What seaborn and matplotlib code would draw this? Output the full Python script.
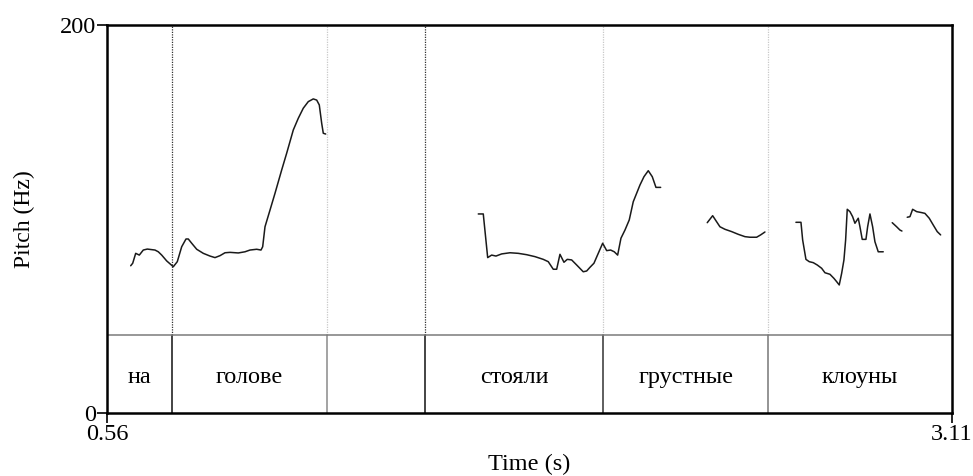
import numpy as np
import pandas as pd
import matplotlib
matplotlib.use("Agg")
import matplotlib.pyplot as plt
import seaborn as sns

# Pitch contour, one list pair per voiced stretch (time in s, F0 in Hz)
seg1_time = [0.6315, 0.6376, 0.6466, 0.6575, 0.6695, 0.6816, 0.7048, 0.7148,
             0.7251, 0.7401, 0.7601, 0.7721, 0.7854, 0.7984, 0.8053, 0.8156,
             0.8307, 0.8506, 0.8708, 0.8859, 0.9010, 0.9161, 0.9312, 0.9562,
             0.9764, 0.9915, 1.0117, 1.0247, 1.0298, 1.0368, 1.0519, 1.0669,
             1.0872, 1.1022, 1.1222, 1.1372, 1.1523, 1.1674, 1.1825, 1.1928,
             1.2006, 1.2079, 1.2127, 1.2199]
seg1_pitch = [75.9, 77.2, 82.3, 81.4, 84.0, 84.5, 84.0, 83.1,
              81.4, 78.4, 75.4, 78.0, 85.7, 89.7, 89.7, 87.5,
              84.4, 82.3, 80.9, 80.1, 81.1, 82.6, 82.8, 82.5,
              83.1, 84.0, 84.4, 84.0, 85.7, 96.0, 104.6, 113.2,
              125.3, 133.9, 145.9, 151.9, 157.1, 160.5, 161.9, 161.3,
              158.8, 149.3, 144.2, 143.8]

seg2_time = [1.6804, 1.6955, 1.7088, 1.7208, 1.7338, 1.7510, 1.7761, 1.8011,
             1.8264, 1.8515, 1.8765, 1.8916, 1.9067, 1.9170, 1.9269, 1.9390,
             1.9490, 1.9622, 1.9773, 1.9972, 2.0075, 2.0175, 2.0295, 2.0425,
             2.0558, 2.0679, 2.0799, 2.0908, 2.1010, 2.1110, 2.1231, 2.1360,
             2.1481, 2.1683, 2.1804, 2.1934, 2.2055, 2.2166, 2.2308]
seg2_pitch = [102.6, 102.6, 80.1, 81.4, 80.9, 82.0, 82.6, 82.3,
              81.6, 80.6, 79.2, 78.0, 74.1, 74.1, 81.8, 77.7,
              79.2, 78.9, 76.3, 72.8, 73.2, 75.1, 77.2, 82.3,
              87.5, 83.7, 84.0, 83.1, 81.4, 90.1, 94.3, 99.5,
              108.9, 117.5, 121.8, 124.9, 121.8, 116.3, 116.3]

seg3_time = [2.3714, 2.3877, 2.3977, 2.4097, 2.4248, 2.4450, 2.4650, 2.4852,
             2.5003, 2.5204, 2.5325, 2.5455]
seg3_pitch = [98.1, 101.7, 99.1, 96.0, 94.7, 93.5, 92.1, 90.9,
              90.6, 90.6, 91.8, 93.3]

seg4_time = [2.6390, 2.6542, 2.6593, 2.6692, 2.6792, 2.6913, 2.7033, 2.7166,
             2.7266, 2.7417, 2.7537, 2.7619, 2.7697, 2.7770, 2.7839, 2.7890,
             2.7939, 2.8020, 2.8101, 2.8171, 2.8271, 2.8322, 2.8391, 2.8503,
             2.8554, 2.8624, 2.8705, 2.8774, 2.8874, 2.9025]
seg4_pitch = [98.3, 98.3, 89.2, 79.2, 78.0, 77.5, 76.3, 74.6,
              72.3, 71.5, 69.4, 67.7, 66.0, 72.0, 78.9, 89.2,
              105.0, 103.8, 101.2, 97.8, 100.4, 96.0, 89.5, 89.5,
              96.0, 102.6, 96.0, 88.3, 83.1, 83.1]

seg5_time = [2.9296, 2.9429, 2.9529, 2.9589]
seg5_pitch = [98.1, 96.0, 94.3, 93.8]

seg6_time = [2.9749, 2.9831, 2.9912, 3.0033, 3.0183, 3.0283, 3.0413, 3.0534,
             3.0654, 3.0757]
seg6_pitch = [100.9, 101.2, 105.0, 103.8, 103.3, 102.9, 100.4, 96.9,
              93.5, 91.8]

# Word tier
word_bounds = [0.56, 0.755, 1.225, 1.520, 2.058, 2.556, 3.11]
word_labels = ["на", "голове", "", "стояли", "грустные", "клоуны"]

t_min, t_max = 0.56, 3.11
f_min, f_max = 0, 200
tier_top = 40

segments = [(seg1_time, seg1_pitch), (seg2_time, seg2_pitch),
            (seg3_time, seg3_pitch), (seg4_time, seg4_pitch),
            (seg5_time, seg5_pitch), (seg6_time, seg6_pitch)]
df = pd.concat(
    [pd.DataFrame({"time": t, "pitch": p, "seg": i})
     for i, (t, p) in enumerate(segments)],
    ignore_index=True,
)

sns.set_theme(style="white")
plt.rcParams["font.family"] = ["Liberation Serif", "DejaVu Serif"]

fig = plt.figure(figsize=(9.73, 4.76), dpi=100)
ax = fig.add_axes([107 / 973, 63 / 476, 845 / 973, 388 / 476])

sns.lineplot(data=df, x="time", y="pitch", units="seg", estimator=None,
             sort=False, color="#1a1a1a", linewidth=1.1, ax=ax)

# interval boundaries: dotted above the tier, solid inside it
dot_colors = ["#333333", "#c8c8c8", "#333333", "#c8c8c8", "#c8c8c8"]
tier_colors = ["#111111", "#8a8a8a", "#111111", "#333333", "#777777"]
for b, dc, tc in zip(word_bounds[1:-1], dot_colors, tier_colors):
    ax.plot([b, b], [tier_top, f_max], color=dc, lw=0.9,
            linestyle=(0, (1, 1)), zorder=1)
    ax.plot([b, b], [f_min, tier_top], color=tc, lw=1.1, zorder=1)

ax.axhline(tier_top, color="#7a7a7a", lw=1.1, zorder=1)

for lo, hi, lab in zip(word_bounds[:-1], word_bounds[1:], word_labels):
    if lab:
        ax.text((lo + hi) / 2, 15.5, lab, ha="center", va="baseline",
                fontsize=17.5, color="black")

ax.set_xlim(t_min, t_max)
ax.set_ylim(f_min, f_max)
ax.set_xticks([t_min, t_max])
ax.set_xticklabels(["0.56", "3.11"])
ax.set_yticks([f_min, f_max])
ax.set_yticklabels(["0", "200"])
ax.tick_params(axis="both", direction="out", length=7, width=1.2,
               labelsize=17.5, colors="black", bottom=True, left=True)
ax.tick_params(axis="x", pad=1)
ax.tick_params(axis="y", pad=1)
ax.set_xlabel("Time (s)", fontsize=17.5, color="black", labelpad=6)
ax.set_ylabel("Pitch (Hz)", fontsize=17, color="black", labelpad=18)

for sp in ax.spines.values():
    sp.set_visible(True)
    sp.set_color("black")
    sp.set_linewidth(1.8)

ax.grid(False)
fig.savefig("out.png", dpi=100, facecolor="white")
